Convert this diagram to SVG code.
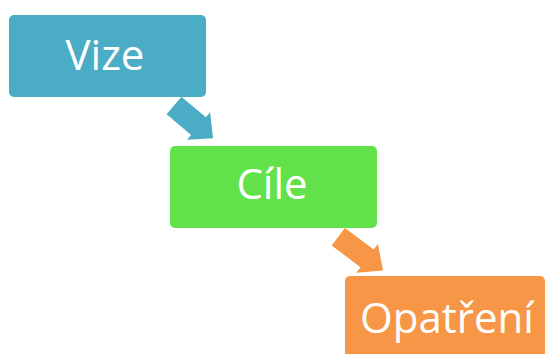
<svg xmlns="http://www.w3.org/2000/svg" width="550" height="354" viewBox="0 0 550 354">
<style>
.lbl{font-family:"Open Sans","Noto Sans",sans-serif;fill:#ffffff;text-anchor:middle}
</style>
<rect width="550" height="354" fill="#ffffff"/>
<g id="connectors">
<polygon id="arrow1" points="0,-11.5 32,-11.5 32,-18 51,0 32,18 32,11.5 0,11.5" fill="#4BACC6" transform="translate(174,105.5) rotate(40)"/>
<polygon id="arrow2" points="0,-11 36,-11 36,-18 56,0 36,18 36,11 0,11" fill="#F79646" transform="translate(338.3,236.7) rotate(37)"/>
</g>
<g id="vize">
<rect x="9" y="15" width="197" height="82" rx="5" fill="#4BACC6"/>
<text class="lbl" x="105" y="70" font-size="42">Vize</text>
</g>
<g id="cile">
<rect x="170" y="146" width="207" height="82" rx="5" fill="#62E24A"/>
<text class="lbl" x="272" y="199" font-size="42">Cíle</text>
</g>
<g id="opatreni">
<rect x="345" y="276" width="200" height="90" rx="5" fill="#F79646"/>
<text class="lbl" x="447" y="333" font-size="42">Opatření</text>
</g>
</svg>
